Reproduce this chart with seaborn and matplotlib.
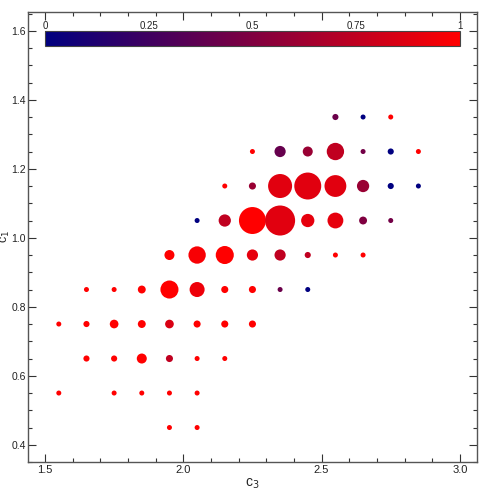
import numpy as np
import pandas as pd
import matplotlib
matplotlib.use("Agg")
import matplotlib.pyplot as plt
import seaborn as sns
from matplotlib.colors import LinearSegmentedColormap, Normalize
from matplotlib.cm import ScalarMappable
from matplotlib.ticker import MultipleLocator

# ---- data ----
c3 = [1.95, 2.05,
      1.55, 1.75, 1.85, 1.95, 2.05,
      1.65, 1.75, 1.85, 1.95, 2.05, 2.15,
      1.55, 1.65, 1.75, 1.85, 1.95, 2.05, 2.15, 2.25,
      1.65, 1.75, 1.85, 1.95, 2.05, 2.15, 2.25, 2.35, 2.45,
      1.95, 2.05, 2.15, 2.25, 2.35, 2.45, 2.55, 2.65,
      2.05, 2.15, 2.25, 2.35, 2.45, 2.55, 2.65, 2.75,
      2.15, 2.25, 2.35, 2.45, 2.55, 2.65, 2.75, 2.85,
      2.25, 2.35, 2.45, 2.55, 2.65, 2.75, 2.85,
      2.55, 2.65, 2.75]
c1 = [0.45, 0.45,
      0.55, 0.55, 0.55, 0.55, 0.55,
      0.65, 0.65, 0.65, 0.65, 0.65, 0.65,
      0.75, 0.75, 0.75, 0.75, 0.75, 0.75, 0.75, 0.75,
      0.85, 0.85, 0.85, 0.85, 0.85, 0.85, 0.85, 0.85, 0.85,
      0.95, 0.95, 0.95, 0.95, 0.95, 0.95, 0.95, 0.95,
      1.05, 1.05, 1.05, 1.05, 1.05, 1.05, 1.05, 1.05,
      1.15, 1.15, 1.15, 1.15, 1.15, 1.15, 1.15, 1.15,
      1.25, 1.25, 1.25, 1.25, 1.25, 1.25, 1.25,
      1.35, 1.35, 1.35]
count = [1, 1,
         1, 1, 1, 1, 1,
         1.5, 1.5, 4, 2, 1, 1,
         1, 1.5, 3, 2.5, 3, 2, 2, 2,
         1, 1, 2.5, 13, 9, 2, 2, 1, 1,
         4, 12, 13, 5, 5, 1.5, 1, 1,
         1, 6, 29, 36, 7, 10, 2.5, 1,
         1, 2, 23, 29, 19, 6, 1.5, 1,
         1, 5, 4, 12, 1, 1.5, 1,
         1.5, 1, 1]
value = [1, 1,
         1, 1, 1, 1, 1,
         1, 1, 1, 0.75, 1, 1,
         1, 1, 1, 1, 0.85, 1, 1, 1,
         1, 1, 1, 1, 0.93, 1, 1, 0.42, 0,
         1, 0.97, 1, 0.9, 0.75, 0.75, 1, 1,
         0, 0.75, 1, 0.88, 0.9, 0.9, 0.5, 0.45,
         1, 0.6, 0.88, 0.88, 0.88, 0.6, 0, 0,
         1, 0.4, 0.6, 0.75, 0.45, 0, 1,
         0.42, 0, 1]
cbar_ticks = [0, 0.25, 0.5, 0.75, 1]
cbar_labels = ["0", "0.25", "0.5", "0.75", "1"]

df = pd.DataFrame({"c3": c3, "c1": c1, "n": count, "v": value})

sns.set_style("ticks")
plt.rcParams["font.family"] = ["Liberation Sans", "DejaVu Sans"]

cmap = LinearSegmentedColormap.from_list("br", ["#000080", "#ff0000"])
norm = Normalize(0, 1)

fig = plt.figure(figsize=(4.91, 4.91), dpi=100)
ax = fig.add_axes([0.057, 0.059, 0.914, 0.917])

sns.scatterplot(data=df, x="c3", y="c1", hue="v", palette=cmap, hue_norm=norm,
                size="n", sizes=(13, 468), size_norm=(1, 36),
                linewidth=0, legend=False, ax=ax)

ax.set_xlim(1.4386, 3.061)
ax.set_ylim(0.35, 1.655)
ax.xaxis.set_major_locator(MultipleLocator(0.5))
ax.xaxis.set_minor_locator(MultipleLocator(0.1))
ax.yaxis.set_major_locator(MultipleLocator(0.2))
ax.yaxis.set_minor_locator(MultipleLocator(0.05))
ax.set_xticks([1.5, 2.0, 2.5, 3.0])
ax.set_xticklabels(["1.5", "2.0", "2.5", "3.0"])
ax.tick_params(which="both", direction="in", top=True, right=True,
               color="#333333", labelsize=8, labelcolor="#222222", pad=2)
ax.tick_params(axis="y", which="both", labelsize=7.5, pad=1.5)
ax.tick_params(which="major", length=6, width=0.8)
ax.tick_params(which="minor", length=3, width=0.8)
for s in ax.spines.values():
    s.set_color("#555555")
    s.set_linewidth(1.0)
ax.set_xlabel("c$_3$", fontsize=10)
ax.set_ylabel("c$_1$", fontsize=9)
ax.xaxis.set_label_coords(0.5, -0.032, transform=ax.transAxes)
ax.yaxis.set_label_coords(-0.050, 0.5, transform=ax.transAxes)
ax.xaxis.label.set_va("top")
ax.yaxis.label.set_va("center")

cax = ax.inset_axes([1.5, 1.555, 1.5, 0.045], transform=ax.transData)
cb = fig.colorbar(ScalarMappable(norm=norm, cmap=cmap), cax=cax,
                  orientation="horizontal")
cb.set_ticks(cbar_ticks)
cb.set_ticklabels(cbar_labels)
cax.xaxis.set_ticks_position("top")
cax.tick_params(length=0, pad=0, labelsize=7, labelcolor="#222222")
cb.outline.set_edgecolor("#444444")
cb.outline.set_linewidth(0.8)

fig.savefig("out.png", dpi=100)
